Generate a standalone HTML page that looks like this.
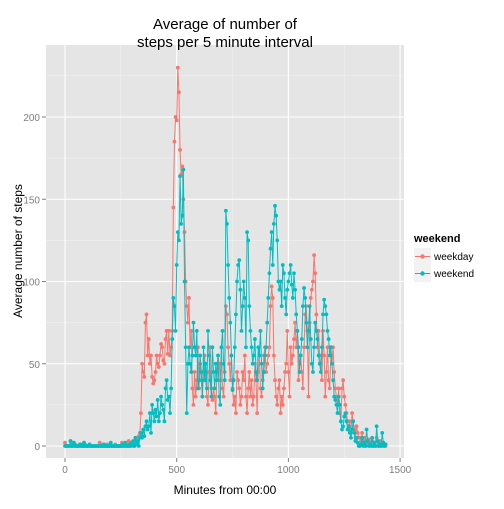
<!DOCTYPE html>
<html><head><meta charset="utf-8"><style>
body{margin:0;background:#fff;font-family:"Liberation Sans",sans-serif}
svg text{font-family:"Liberation Sans",sans-serif}
</style></head><body>
<svg id="chart" width="504" height="504">
<rect x="0" y="0" width="504" height="504" fill="#fff"/>
<rect x="46" y="45" width="358" height="413" fill="#E5E5E5"/>
<g id="grid"></g>
<g id="series"></g>
<g id="axes"></g>
<text x="225" y="29" text-anchor="middle" font-size="15" fill="#000">Average of number of</text>
<text x="225" y="47" text-anchor="middle" font-size="15" fill="#000">steps per 5 minute interval</text>
<text x="225" y="494" text-anchor="middle" font-size="12" fill="#000">Minutes from 00:00</text>
<text transform="translate(22,251) rotate(-90)" text-anchor="middle" font-size="12" fill="#000">Average number of steps</text>
<g>
<text x="414" y="242" font-size="11" font-weight="bold" fill="#000">weekend</text>
<g>
<rect x="414" y="248" width="17" height="17" fill="#F2F2F2"/>
<line x1="415" y1="256.5" x2="430" y2="256.5" stroke="#F8766D" stroke-width="1"/>
<circle cx="422.5" cy="256.5" r="2.2" fill="#F8766D"/>
<text x="434" y="260" font-size="10" fill="#000">weekday</text></g>
<g>
<rect x="414" y="265" width="17" height="17" fill="#F2F2F2"/>
<line x1="415" y1="273.5" x2="430" y2="273.5" stroke="#00BFC4" stroke-width="1"/>
<circle cx="422.5" cy="273.5" r="2.2" fill="#00BFC4"/>
<text x="434" y="277" font-size="10" fill="#000">weekend</text></g>
</g>
</svg>
<script>
const xTicks=[0,500,1000,1500];
const xMinor=[250,750,1250];
const yTicks=[0,50,100,150,200];
const yMinor=[25,75,125,175,225];
const weekday=[
2,0,0,0,0,3,0,1,0,1,0,0,
0,1,0,0,0,0,1,0,0,0,0,0,
0,0,0,0,0,0,0,2,0,1,0,0,
0,0,1,0,0,0,0,0,0,1,0,0,
0,0,0,2,0,1,0,1,0,3,0,2,
1,0,0,3,1,4,6,8,20,50,45,42,
75,80,55,65,50,55,42,38,40,45,55,50,
48,55,62,60,52,50,65,70,56,70,55,60,
70,145,185,200,198,230,215,180,165,170,150,130,
100,85,75,90,60,70,35,25,45,30,40,60,
35,50,40,30,45,55,40,30,25,45,60,35,
28,35,30,20,45,55,50,40,60,35,30,45,
85,80,60,50,40,55,35,25,30,20,45,40,
35,25,30,45,40,55,30,20,35,45,30,40,
25,30,50,40,20,45,55,35,30,40,55,60,
45,50,55,60,85,97,90,55,40,30,25,35,
40,20,30,25,35,45,50,70,45,30,60,50,
55,65,75,60,70,40,50,55,45,35,60,80,
85,70,30,75,90,95,100,116,105,80,60,70,
55,50,40,70,55,30,45,60,40,35,55,50,
60,45,35,30,25,35,20,15,35,40,30,25,
20,15,10,15,8,20,15,10,5,12,8,5,
5,3,8,2,5,0,3,1,4,2,0,3,
0,2,0,5,0,1,3,0,2,0,1,0];
const weekendVals=[
0,0,0,0,0,3,0,0,2,0,0,0,
0,0,1,0,0,2,0,0,0,0,1,0,
0,0,0,0,0,0,0,0,0,0,0,1,
0,0,0,0,0,2,0,0,0,0,0,0,
0,0,0,0,1,0,2,0,0,0,1,0,
2,3,0,5,1,3,0,5,8,5,10,6,
12,15,10,12,20,8,25,20,15,22,18,28,
15,20,30,25,22,15,35,40,28,30,20,35,
65,90,85,70,110,130,125,164,135,140,168,100,
60,20,50,60,50,45,55,75,60,55,70,35,
40,55,45,30,60,40,50,35,70,55,40,30,
60,45,35,50,40,55,30,25,60,70,50,40,
143,135,110,90,75,55,34,40,60,80,100,110,
113,95,70,85,100,90,60,130,125,85,70,60,
50,55,65,45,40,60,55,70,50,35,45,55,
60,75,90,105,120,130,110,135,146,140,125,100,
95,100,85,110,105,90,80,95,100,105,110,98,
90,105,95,80,70,60,45,55,65,85,96,90,
75,60,70,85,65,50,45,60,75,70,65,55,
50,45,60,80,89,85,80,70,65,55,60,50,
40,30,28,25,20,30,25,15,10,12,18,20,
15,10,12,8,5,10,15,8,3,5,2,0,
0,1,5,0,2,0,10,3,0,1,0,5,
0,2,0,12,3,0,1,0,8,2,0,1];
const NS="http://www.w3.org/2000/svg";
function xs(m){return 65+m*0.2234;}
function ys(v){return 446-v*1.645;}
function mk(tag,attrs,parent){const e=document.createElementNS(NS,tag);for(const k in attrs)e.setAttribute(k,attrs[k]);parent.appendChild(e);return e;}
const grid=document.getElementById('grid');
yMinor.forEach(v=>{const l=mk('line',{x1:46,x2:404,y1:ys(v),y2:ys(v),stroke:'#F2F2F2','stroke-width':0.6},grid);

});
xMinor.forEach(v=>{const l=mk('line',{x1:xs(v),x2:xs(v),y1:45,y2:458,stroke:'#F2F2F2','stroke-width':0.6},grid);

});
const axes=document.getElementById('axes');
yTicks.forEach(v=>{const l=mk('line',{x1:46,x2:404,y1:ys(v),y2:ys(v),stroke:'#fff','stroke-width':1.1},grid);


const t=mk('line',{x1:42,x2:46,y1:ys(v),y2:ys(v),stroke:'#7f7f7f'},axes);


const tx=mk('text',{x:40,y:ys(v)+4,'text-anchor':'end','font-size':10,fill:'#7f7f7f'},axes);tx.textContent=v;

});
xTicks.forEach(v=>{const l=mk('line',{x1:xs(v),x2:xs(v),y1:45,y2:458,stroke:'#fff','stroke-width':1.1},grid);


const t=mk('line',{x1:xs(v),x2:xs(v),y1:458,y2:462,stroke:'#7f7f7f'},axes);


const tx=mk('text',{x:xs(v),y:473,'text-anchor':'middle','font-size':10,fill:'#7f7f7f'},axes);tx.textContent=v;

});
const ser=document.getElementById('series');
function draw(vals,color,name){
 const g=mk('g',{},ser);
 
 
 const pts=vals.map((v,i)=>xs(i*5).toFixed(2)+','+ys(v).toFixed(2)).join(' ');
 const pl=mk('polyline',{points:pts,fill:'none',stroke:color,'stroke-width':1},g);
 
 
 vals.forEach((v,i)=>{const c=mk('circle',{cx:xs(i*5),cy:ys(v),r:1.9,fill:color},g);
 
 });
}
draw(weekday,'#F8766D','weekday');
draw(weekendVals,'#00BFC4','weekend');
</script>
</body></html>
